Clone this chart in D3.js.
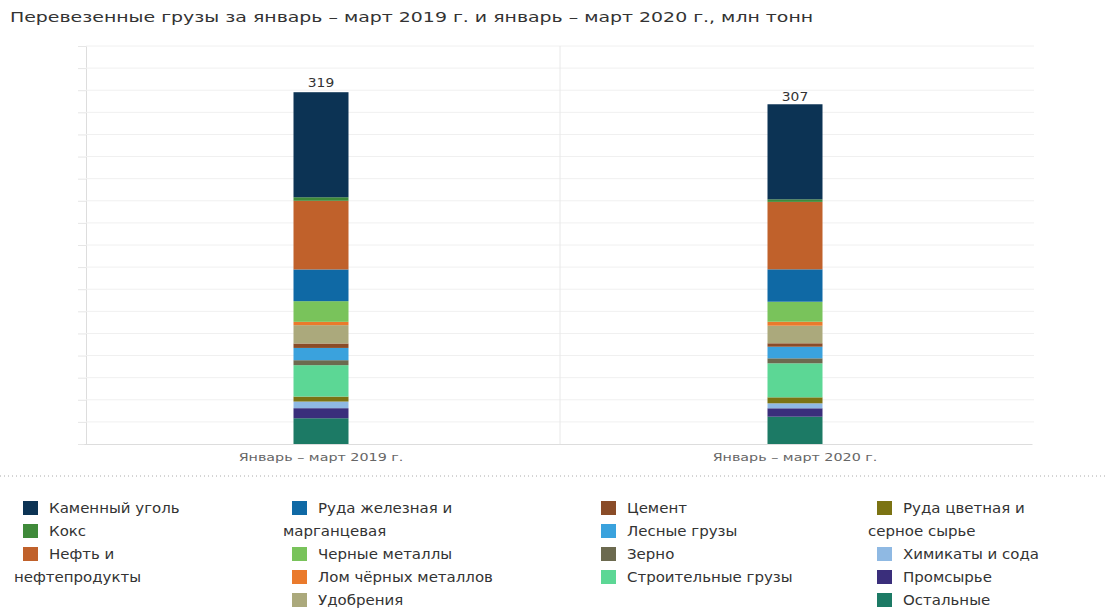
<!DOCTYPE html>
<html><head><meta charset="utf-8">
<script src="https://cdn.jsdelivr.net/npm/d3@7"></script>
<style>
body{margin:0;background:#fff;}
svg{display:block;font-family:"DejaVu Sans",Verdana,sans-serif;}
</style></head>
<body><svg id="c" width="1108" height="608"></svg>
<script>
const title = "Перевезенные грузы за январь – март 2019 г. и январь – март 2020 г., млн тонн";
const categories = ["Январь – март 2019 г.", "Январь – март 2020 г."];
const totals = [319, 307];
const seriesNames = [
  "Каменный уголь", "Кокс", "Нефть и\nнефтепродукты",
  "Руда железная и\nмарганцевая", "Черные металлы", "Лом чёрных металлов", "Удобрения",
  "Цемент", "Лесные грузы", "Зерно", "Строительные грузы",
  "Руда цветная и\nсерное сырье", "Химикаты и сода", "Промсырье", "Остальные"
];
const values2019 = [95.0, 3.2, 62.1, 28.7, 18.7, 3.0, 16.6, 4.0, 11.1, 4.5, 28.4, 4.5, 6.0, 9.1, 23.3];
const values2020 = [86.0, 2.3, 61.0, 29.3, 18.1, 3.6, 15.9, 3.1, 10.5, 4.5, 30.8, 5.4, 4.5, 7.6, 24.7];
const colors = ["#0c3354", "#3f8a3a", "#c0612b", "#0f69a5", "#79c35b", "#ea7a2c", "#aba97c",
  "#8a4c28", "#3aa2dd", "#6c6a4f", "#5cd795", "#7b7313", "#8fb9e3", "#3a2e7b", "#1c7a65"];
const legendColumns = [[0,1,2],[3,4,5,6],[7,8,9,10],[11,12,13,14]];
const yMax = 360, yStep = 20;

const svg = d3.select("#c");
const W = 1108;
const plot = {left: 86, right: 1034, top: 46, bottom: 444};

// stretch text horizontally (reference font renders wider)
function stretch(sel, k) {
  sel.each(function() {
    const w = this.getComputedTextLength();
    d3.select(this).attr("textLength", w * k).attr("lengthAdjust", "spacingAndGlyphs");
  });
}

svg.append("text").attr("x", 10).attr("y", 22).attr("font-size", 13.5)
  .attr("fill", "#333").text(title).call(stretch, 1.4);

const y = d3.scaleLinear().domain([0, yMax]).range([plot.bottom, plot.top]);
const x = d3.scaleBand().domain(categories).range([plot.left - 2, plot.right - 2]).padding(0);
const barW = 55;

// gridlines & left ticks
const ticks = d3.range(0, yMax + 1, yStep);
const yAxis = d3.axisLeft(y).tickValues(ticks).tickSize(8).tickFormat("");
const gy = svg.append("g").attr("transform", `translate(${plot.left},0)`).call(yAxis);
gy.select(".domain").attr("stroke", "#ddd");
gy.selectAll(".tick line").attr("stroke", "#e6e6e6");
svg.append("g").selectAll("line").data(ticks.slice(1)).join("line")
  .attr("x1", plot.left).attr("x2", plot.right)
  .attr("y1", d => y(d)).attr("y2", d => y(d))
  .attr("stroke", "#f0f0f0");
// category separator
svg.append("g").selectAll("line").data(categories.slice(1)).join("line")
  .attr("x1", d => x(d) + 2).attr("x2", d => x(d) + 2)
  .attr("y1", plot.top).attr("y2", plot.bottom).attr("stroke", "#e8e8e8");
// x axis
const xAxis = d3.axisBottom(x).tickSize(0).tickPadding(9);
const gx = svg.append("g").attr("transform", `translate(0,${plot.bottom})`).call(xAxis);
gx.select(".domain").attr("stroke", "#ddd");
gx.selectAll("text").attr("font-size", 11).attr("fill", "#666")
  .attr("font-family", '"DejaVu Sans",Verdana,sans-serif').call(stretch, 1.3);

// stacked bars (first series on top)
const rows = categories.map((c, i) => {
  const o = {cat: c};
  seriesNames.forEach((s, k) => o[k] = (i === 0 ? values2019 : values2020)[k]);
  return o;
});
const keys = d3.range(seriesNames.length).reverse();
const stack = d3.stack().keys(keys)(rows);
svg.append("g").selectAll("g").data(stack).join("g")
  .attr("fill", d => colors[d.key])
  .selectAll("rect").data(d => d).join("rect")
  .attr("x", d => x(d.data.cat) + x.bandwidth() / 2 - barW / 2)
  .attr("width", barW)
  .attr("y", d => y(d[1]))
  .attr("height", d => y(d[0]) - y(d[1]));

svg.append("g").selectAll("text").data(categories).join("text")
  .attr("x", d => x(d) + x.bandwidth() / 2)
  .attr("y", (d, i) => y(totals[i]) - 4)
  .attr("text-anchor", "middle").attr("font-size", 12).attr("fill", "#333")
  .text((d, i) => totals[i]).call(stretch, 1.15);

// dotted separator
svg.append("line").attr("x1", 0).attr("x2", W).attr("y1", 476).attr("y2", 476)
  .attr("stroke", "#aaa").attr("stroke-dasharray", "1,3");

// legend
const colLeft = [14, 283, 592, 868];
const lineH = 23, legTop = 508;
legendColumns.forEach((col, ci) => {
  let line = 0;
  col.forEach(k => {
    const parts = seriesNames[k].split("\n");
    const cy = legTop + line * lineH;
    const sx = colLeft[ci] + 9;
    svg.append("rect").attr("x", sx).attr("y", cy - 7).attr("width", 15).attr("height", 14)
      .attr("fill", colors[k]);
    parts.forEach((p, pi) => {
      svg.append("text")
        .attr("x", pi === 0 ? sx + 26 : colLeft[ci])
        .attr("y", cy + pi * lineH + 5)
        .attr("font-size", 13.5).attr("fill", "#333").text(p).call(stretch, 1.11);
    });
    line += parts.length;
  });
});
</script></body></html>
